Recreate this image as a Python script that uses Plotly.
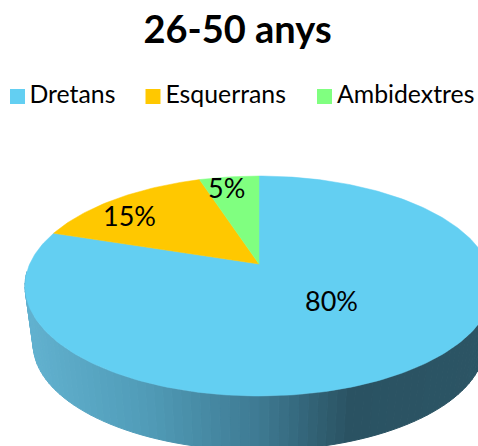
import math
import plotly.graph_objects as go

categories = ["Dretans", "Esquerrans", "Ambidextres"]
values = [80, 15, 5]
labels = ["80%", "15%", "5%"]

colors = ["#63CFF2", "#FFC800", "#80FF80"]
label_pos = [(72, -36), (-130, 49), (-33, 77)]
legend_x = [-241.5, -106, 65.5]
legend_y = 167.5
legend_text_x = [-229.5, -93.5, 78]
legend_text_y = 167.5
side_stops = [(-234, (98, 178, 208)), (-110, (80, 155, 183)), (0, (62, 122, 146)),
              (90, (42, 82, 98)), (234, (44, 85, 101))]

A, B, P = 105.6, 229.3, 0.2
SHRINK, DEPTH = 0.965, 59.0


def top(deg):
    t = math.radians(deg)
    X, Y = math.sin(t), math.cos(t)
    d = 1 + P * Y
    return B * X / d, A * Y / d


def bottom(deg):
    x, y = top(deg)
    return x * SHRINK, y * SHRINK - DEPTH


def side_color(x):
    for (x0, c0), (x1, c1) in zip(side_stops, side_stops[1:]):
        if x <= x1:
            f = max(0, (x - x0) / (x1 - x0))
            return "rgb(%d,%d,%d)" % tuple(round(a + (b - a) * f) for a, b in zip(c0, c1))
    return "rgb(%d,%d,%d)" % side_stops[-1][1]


fig = go.Figure()

# cylinder wall as thin vertical bands
step = 2
for deg in range(94, 266, step):
    pts = [top(deg), top(deg + step), bottom(deg + step), bottom(deg)]
    xs = [p[0] for p in pts] + [pts[0][0]]
    ys = [p[1] for p in pts] + [pts[0][1]]
    c = side_color(sum(xs[:4]) / 4)
    fig.add_trace(go.Scatter(x=xs, y=ys, mode="lines", fill="toself", fillcolor=c,
                             line=dict(color=c, width=1), showlegend=False, hoverinfo="skip"))

# top surface, slices swept from the values
total = sum(values)
start = 0.0
for name, v, c in zip(categories, values, colors):
    sweep = 360 * v / total
    n = max(2, int(sweep))
    arc = [top(start + sweep * i / n) for i in range(n + 1)]
    xs = [0] + [p[0] for p in arc] + [0]
    ys = [0] + [p[1] for p in arc] + [0]
    fig.add_trace(go.Scatter(x=xs, y=ys, mode="lines", fill="toself", fillcolor=c,
                             line=dict(color=c, width=0.5), showlegend=False, name=name,
                             hoverinfo="name"))
    start += sweep

# legend row: swatches, then category names
fig.add_trace(go.Scatter(x=legend_x, y=[legend_y] * 3, mode="markers", showlegend=False,
                         hoverinfo="skip", marker=dict(symbol="square", size=15, color=colors)))
fig.add_trace(go.Scatter(x=legend_text_x, y=[legend_text_y] * 3, mode="text", text=categories,
                         textposition="middle right", showlegend=False, hoverinfo="skip",
                         textfont=dict(family="Lato", size=24.8, color="#000000")))

fig.update_layout(
    width=478, height=446, margin=dict(l=0, r=0, t=0, b=0),
    paper_bgcolor="white", plot_bgcolor="white",
    font=dict(family="Lato", color="#000000", size=24),
    title=dict(text="<b>26-50 anys</b>", x=0.497, xanchor="center", y=0.933, yanchor="middle",
               font=dict(family="Lato", size=38, color="#000000")),
    xaxis=dict(range=[-259, 219], visible=False, fixedrange=True),
    yaxis=dict(range=[-182, 264], visible=False, fixedrange=True),
    showlegend=False,
    annotations=[dict(x=px, y=py, text=t, showarrow=False, xref="x", yref="y",
                      font=dict(family="Lato", size=27, color="#000000"))
                 for t, (px, py) in zip(labels, label_pos)],
)

fig.write_html("out.html", post_script="document.body.style.margin='0';document.body.style.overflow='hidden';",
               config={"displayModeBar": False})
